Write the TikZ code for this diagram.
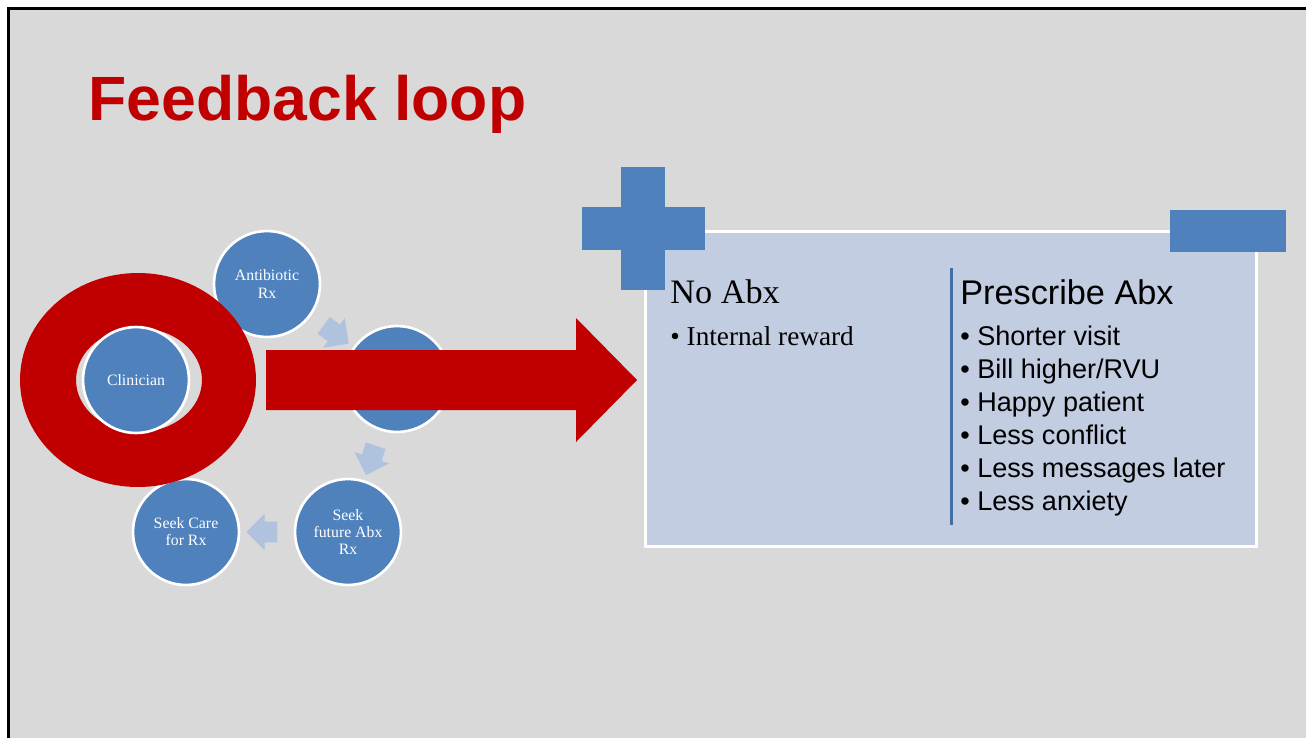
\documentclass[tikz,border=0pt]{standalone}
\usepackage{fontspec}
\setmainfont{Liberation Serif}
\setsansfont{Liberation Sans}
\usetikzlibrary{shapes,arrows,positioning,calc}

\definecolor{slidegray}{HTML}{D9D9D9}
\definecolor{cycleblue}{HTML}{4F81BD}
\definecolor{paleblue}{HTML}{B0C3DE}
\definecolor{panelblue}{HTML}{C2CDE2}
\definecolor{loopred}{HTML}{C00000}

\begin{document}
\begin{tikzpicture}[x=0.02cm, y=-0.02cm,
    cyclenode/.style={circle, draw=white, line width=1.5pt, fill=cycleblue,
      minimum size=2.12cm, inner sep=0pt, text=white, align=center,
      font=\fontsize{9}{9.7}\selectfont},
    cyclearrow/.style={single arrow, fill=paleblue, draw=none, inner xsep=0pt,
      inner ysep=0.2cm, minimum height=0.62cm, single arrow head extend=0.16cm},
    itemtext/.style={anchor=base west, inner sep=0pt},
    sansitem/.style={itemtext, font=\sffamily\fontsize{15.4}{18}\selectfont}]
  \useasboundingbox (0,0) rectangle (1306,738);

  % slide background with its frame on top and left
  \fill[slidegray] (8,8) rectangle (1306,738);
  \draw[black, line width=1.7pt] (8.5,738) -- (8.5,8.5) -- (1306,8.5);

  % title
  \node[itemtext, text=loopred, font=\sffamily\bfseries\fontsize{35.6}{40}\selectfont]
    (title) at (88,120) {Feedback loop};

  % the cycle of circles
  \node[cyclenode] (abx) at (267,284) {Antibiotic\\Rx};
  \node[cyclenode] (visit) at (397,379) {};
  \node[cyclenode] (future) at (348,532) {Seek\\future Abx\\Rx};
  \node[cyclenode] (care) at (186,532) {Seek Care\\for Rx};

  % small arrows half way between the circles
  \node[cyclearrow, rotate=-36] (step1) at ($(abx)!0.5!(visit)$) {};
  \node[cyclearrow, rotate=-108] (step2) at ($(visit)!0.5!(future)$) {};
  \node[cyclearrow, rotate=180] (step3) at ($(future)!0.5!(care)$) {};

  % red ring round the clinician
  \fill[loopred, even odd rule] (138,380) ellipse [x radius=2.36cm, y radius=2.14cm]
    (139,380) ellipse [x radius=1.26cm, y radius=1.04cm];
  \node[cyclenode] (clin) at (136,380) {Clinician};

  % big red arrow towards the panel
  \fill[loopred] (266,350) -- (576,350) -- (576,318) -- (637,380)
    -- (576,442) -- (576,410) -- (266,410) -- cycle;

  % panel with plus and minus
  \node[draw=white, line width=1.7pt, fill=panelblue, inner sep=0pt,
    minimum width=12.24cm, minimum height=6.32cm] (panel) at (951,389) {};
  \fill[cycleblue] (621,167) rectangle (665,290);
  \fill[cycleblue] (582,207) rectangle (705,250);
  \fill[cycleblue] (1170,210) rectangle (1286,252);
  \draw[cycleblue!85!black, line width=1.7pt] (951,268) -- (951,525);

  % left column
  \node[itemtext, font=\fontsize{19.5}{22}\selectfont] (noabx) at (670,303) {No Abx};
  \node[itemtext, font=\fontsize{15.5}{18}\selectfont] (reward) at (670,345) {\textbullet\ Internal reward};

  % right column
  \node[itemtext, font=\sffamily\fontsize{19.5}{22}\selectfont] (rxabx) at (960,304) {Prescribe Abx};
  \node[sansitem] (item1) at (960,345) {\textbullet\ Shorter visit};
  \node[sansitem] (item2) at (960,378) {\textbullet\ Bill higher/RVU};
  \node[sansitem] (item3) at (960,411) {\textbullet\ Happy patient};
  \node[sansitem] (item4) at (960,444) {\textbullet\ Less conflict};
  \node[sansitem] (item5) at (960,477) {\textbullet\ Less messages later};
  \node[sansitem] (item6) at (960,510) {\textbullet\ Less anxiety};
\end{tikzpicture}
\end{document}
